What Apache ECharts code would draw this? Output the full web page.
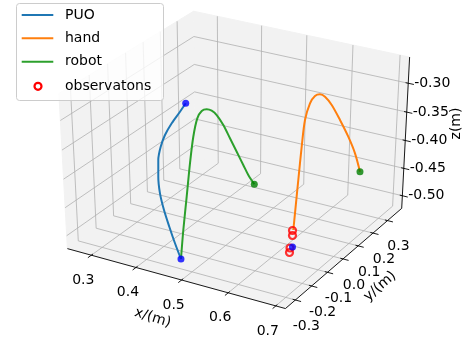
<!DOCTYPE html>
<html><head><meta charset="utf-8">
<script src="https://cdn.jsdelivr.net/npm/echarts@6/dist/echarts.min.js"></script>
<style>html,body{margin:0;padding:0;background:#fff}#c{width:470px;height:346px}</style>
</head><body><div id="c"></div>
<script>
// ---------------- data ----------------
const puoX = [0.3695,0.3671,0.3589,0.3541,0.3548,0.3596,0.3696,0.3834,0.4024,0.4242,0.4468,0.4701];
const puoY = [0.02,-0.0077,-0.0353,-0.0629,-0.0906,-0.1182,-0.1458,-0.1734,-0.2011,-0.2287,-0.2563,-0.284];
const puoZ = [-0.3236,-0.3331,-0.3491,-0.3647,-0.3793,-0.3958,-0.4172,-0.4377,-0.4572,-0.4760,-0.4943,-0.5108];
const robotX = [0.4701,0.4705,0.4732,0.4756,0.4777,0.4809,0.4847,0.4896,0.4944,0.4993,0.5076,0.5161,0.5249,0.5335,0.5389,0.5465];
const robotY = [-0.284,-0.2688,-0.2536,-0.2384,-0.2232,-0.208,-0.1928,-0.1776,-0.1624,-0.1472,-0.132,-0.1168,-0.1016,-0.0864,-0.0712,-0.056];
const robotZ = [-0.5108,-0.4628,-0.4076,-0.3532,-0.3113,-0.2832,-0.2734,-0.2728,-0.2772,-0.2865,-0.3047,-0.3285,-0.3528,-0.3771,-0.3966,-0.4145];
const handX = [0.6312,0.6253,0.6222,0.6192,0.6162,0.6172,0.6186,0.6204,0.6225,0.6286,0.6386,0.6490,0.6564,0.6604];
const handY = [-0.056,-0.0297,-0.0034,0.0229,0.0493,0.0756,0.1019,0.1281,0.1544,0.1807,0.2071,0.2334,0.2597,0.286];
const handZ = [-0.4776,-0.4552,-0.4033,-0.3520,-0.3126,-0.2895,-0.2821,-0.2841,-0.2929,-0.3110,-0.3401,-0.3725,-0.4058,-0.4434];
const obsX = [0.6295,0.6322,0.6325,0.6341];
const obsY = [-0.056,-0.0636,-0.0788,-0.0864];
const obsZ = [-0.4788,-0.4854,-0.5041,-0.5100];
const blueX = [0.3695,0.4701,0.6378];
const blueY = [0.02,-0.284,-0.0788];
const blueZ = [-0.3236,-0.5108,-0.5012];
const greenX = [0.5465,0.6604];
const greenY = [-0.056,0.286];
const greenZ = [-0.4145,-0.4434];
const xTicks = [0.3,0.4,0.5,0.6,0.7];
const yTicks = [-0.3,-0.2,-0.1,0.0,0.1,0.2,0.3];
const zTicks = [-0.50,-0.45,-0.40,-0.35,-0.30];
const xTickLabels = ['0.3','0.4','0.5','0.6','0.7'];
const yTickLabels = ['-0.3','-0.2','-0.1','0.0','0.1','0.2','0.3'];
const zTickLabels = ['-0.50','-0.45','-0.40','-0.35','-0.30'];
const xLim = [0.2455,0.72], yLim = [-0.36,0.40], zLim = [-0.5233,-0.2554];
const legendNames = ['PUO','hand','robot','observatons'];
const axisTitles = ['x/(m)','y/(m)','z(m)'];

// ---------------- 3D view (perspective, elev/azim like matplotlib) ----------------
const ELEV = 30, AZIM = -60, DIST = 10, BOX = [1.1429,1.1429,0.96];
const KX = 2192, KY = 1841, CX = 237.5, CY = 153.4, W = 470, H = 346;
const e = ELEV*Math.PI/180, a = AZIM*Math.PI/180;
const wv = [Math.cos(e)*Math.cos(a), Math.cos(e)*Math.sin(a), Math.sin(e)];
const uv = [-Math.sin(a), Math.cos(a), 0];
const vv = [-Math.sin(e)*Math.cos(a), -Math.sin(e)*Math.sin(a), Math.cos(e)];
const dot = (p,q)=>p[0]*q[0]+p[1]*q[1]+p[2]*q[2];
function projF(fx,fy,fz){
  const r=[(fx-0.5)*BOX[0],(fy-0.5)*BOX[1],(fz-0.5)*BOX[2]];
  const d=DIST-dot(wv,r);
  return [dot(uv,r)/d, dot(vv,r)/d];
}
const fX=x=>(x-xLim[0])/(xLim[1]-xLim[0]);
const fY=y=>(y-yLim[0])/(yLim[1]-yLim[0]);
const fZ=z=>(z-zLim[0])/(zLim[1]-zLim[0]);
const proj=(x,y,z)=>projF(fX(x),fY(y),fZ(z));
const curve=(X,Y,Z)=>X.map((x,i)=>proj(x,Y[i],Z[i]));

// ---------------- box geometry ----------------
const panes=[
  [[0,0,0],[1,0,0],[1,1,0],[0,1,0]],
  [[0,0,0],[0,1,0],[0,1,1],[0,0,1]],
  [[0,1,0],[1,1,0],[1,1,1],[0,1,1]]
];
const seg=(p,q)=>{const A=projF(...p),B=projF(...q);return [A[0],A[1],B[0],B[1]];};
const gridSegs=[];
xTicks.forEach(t=>{const f=fX(t);gridSegs.push(seg([f,0,0],[f,1,0]),seg([f,1,0],[f,1,1]));});
yTicks.forEach(t=>{const f=fY(t);gridSegs.push(seg([0,f,0],[1,f,0]),seg([0,f,0],[0,f,1]));});
zTicks.forEach(t=>{const f=fZ(t);gridSegs.push(seg([0,0,f],[0,1,f]),seg([0,1,f],[1,1,f]));});
const axisSegs=[seg([0,0,0],[1,0,0]),seg([1,0,0],[1,1,0]),seg([1,1,0],[1,1,1])];
xTicks.forEach(t=>{const f=fX(t);axisSegs.push(seg([f,0.012,0],[f,-0.025,0]));});
yTicks.forEach(t=>{const f=fY(t);axisSegs.push(seg([0.988,f,0],[1.025,f,0]));});
zTicks.forEach(t=>{const f=fZ(t);axisSegs.push(seg([0.988,1,f],[1.025,1,f]));});

const texts=[];
xTicks.forEach((t,i)=>{const p=projF(fX(t),0,0);texts.push([p[0],p[1],xTickLabels[i],-8,25,0]);});
yTicks.forEach((t,i)=>{const p=projF(1,fY(t),0);texts.push([p[0],p[1],yTickLabels[i],11,26,0]);});
zTicks.forEach((t,i)=>{const p=projF(1,1,fZ(t));texts.push([p[0],p[1],zTickLabels[i],24,0,0]);});
{const p=projF(0.5,0,0);texts.push([p[0],p[1],axisTitles[0],-21,40,-17]);}
{const p=projF(1,0.5,0);texts.push([p[0],p[1],axisTitles[1],34,30,41]);}
{const p=projF(1,1,0.5);texts.push([p[0],p[1],axisTitles[2],51,-11,90]);}

const FONT='14px "DejaVu Sans"';
const segRender=(color,width)=>(params,api)=>{
  const p1=api.coord([api.value(0),api.value(1)]),p2=api.coord([api.value(2),api.value(3)]);
  return {type:'line',shape:{x1:p1[0],y1:p1[1],x2:p2[0],y2:p2[1]},style:{stroke:color,lineWidth:width}};
};
const chart=echarts.init(document.getElementById('c'),null,{renderer:'canvas'});
const lineColors=['#1f77b4','#ff7f0e','#2ca02c'];
chart.setOption({
  animation:false,
  grid:{left:0,right:0,top:0,bottom:0},
  xAxis:{type:'value',min:(0-CX)/KX,max:(W-CX)/KX,show:false},
  yAxis:{type:'value',min:(CY-H)/KY,max:CY/KY,show:false},
  series:[
    {type:'custom',silent:true,z:1,clip:false,
     data:panes.map(pn=>{const c=projF(...pn[0]);return [c[0],c[1]];}),
     encode:{x:0,y:1},
     renderItem:(params,api)=>({type:'polygon',shape:{points:panes[params.dataIndex].map(q=>api.coord(projF(...q)))},style:{fill:'#f2f2f2',stroke:'#f2f2f2',lineWidth:1}})},
    {type:'custom',silent:true,z:2,clip:false,data:gridSegs,encode:{x:[0,2],y:[1,3]},renderItem:segRender('#b0b0b0',0.8)},
    {type:'custom',silent:true,z:3,clip:false,data:axisSegs,encode:{x:[0,2],y:[1,3]},renderItem:segRender('#000',0.9)},
    {type:'custom',silent:true,z:3,clip:false,data:texts,encode:{x:0,y:1},
     renderItem:(params,api)=>{const t=texts[params.dataIndex];const p=api.coord([t[0],t[1]]);
       return {type:'text',x:p[0]+t[3],y:p[1]+t[4],rotation:t[5]*Math.PI/180,
         style:{text:t[2],fill:'#000',font:FONT,align:'center',verticalAlign:'middle'}};}},
    {name:'PUO',type:'line',z:4,data:curve(puoX,puoY,puoZ),smooth:0.3,showSymbol:false,symbol:'none',lineStyle:{color:lineColors[0],width:2},clip:false},
    {name:'hand',type:'line',z:4,data:curve(handX,handY,handZ),smooth:0.3,showSymbol:false,symbol:'none',lineStyle:{color:lineColors[1],width:2},clip:false},
    {name:'robot',type:'line',z:4,data:curve(robotX,robotY,robotZ),smooth:0.3,showSymbol:false,symbol:'none',lineStyle:{color:lineColors[2],width:2},clip:false},
    {name:'observatons',type:'scatter',z:5,data:curve(obsX,obsY,obsZ),symbol:'circle',symbolSize:7,itemStyle:{color:'rgba(255,255,255,0)',borderColor:'#ff0000',borderWidth:2.2},clip:false},
    {type:'scatter',z:6,data:curve(blueX,blueY,blueZ),symbolSize:7,itemStyle:{color:'#0000ff'},clip:false},
    {type:'scatter',z:6,data:curve(greenX,greenY,greenZ),symbolSize:7,itemStyle:{color:'#008000'},clip:false}
  ],
  graphic:[
    {type:'rect',left:16,top:3,z:100,shape:{x:0,y:0,width:147,height:97,r:3},style:{fill:'rgba(255,255,255,0.8)',stroke:'#cccccc',lineWidth:1}},
    {type:'line',z:101,shape:{x1:21.7,y1:15,x2:53.3,y2:15},style:{stroke:lineColors[0],lineWidth:2}},
    {type:'line',z:101,shape:{x1:21.7,y1:38.3,x2:53.3,y2:38.3},style:{stroke:lineColors[1],lineWidth:2}},
    {type:'line',z:101,shape:{x1:21.7,y1:61.7,x2:53.3,y2:61.7},style:{stroke:lineColors[2],lineWidth:2}},
    {type:'circle',z:101,shape:{cx:38,cy:86.3,r:3.5},style:{fill:'#fff',stroke:'#ff0000',lineWidth:2.2}},
    {type:'text',z:101,x:65,y:15,style:{text:legendNames[0],font:FONT,fill:'#000',verticalAlign:'middle',width:100,overflow:'none'}},
    {type:'text',z:101,x:65,y:38.3,style:{text:legendNames[1],font:FONT,fill:'#000',verticalAlign:'middle',width:100,overflow:'none'}},
    {type:'text',z:101,x:65,y:61.7,style:{text:legendNames[2],font:FONT,fill:'#000',verticalAlign:'middle',width:100,overflow:'none'}},
    {type:'text',z:101,x:65,y:86,style:{text:legendNames[3],font:FONT,fill:'#000',verticalAlign:'middle',width:100,overflow:'none'}}
  ]
});
</script></body></html>
